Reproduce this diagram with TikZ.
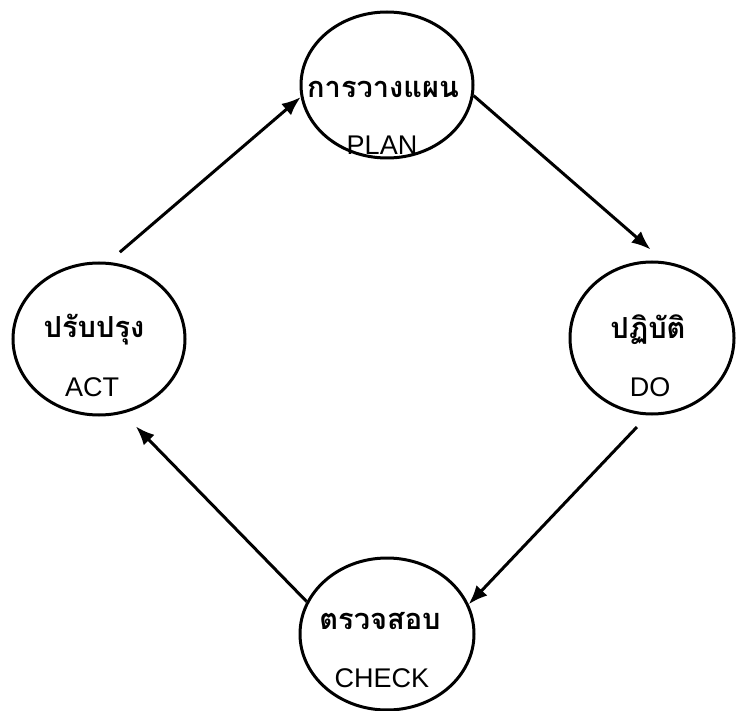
\documentclass[tikz,border=0pt]{standalone}
\usepackage{fontspec}
\setmainfont{Liberation Sans}
\newfontfamily\thaifont[Script=Thai]{Loma}
\usetikzlibrary{arrows.meta,shapes.geometric}
\begin{document}
\begin{tikzpicture}[x=1pt,y=-1pt,
  stage/.style={draw=black,line width=3pt,ellipse,inner sep=0pt},
  thai/.style={font=\thaifont\bfseries\fontsize{29}{32}\selectfont,inner sep=0pt},
  eng/.style={font=\fontsize{27}{30}\selectfont,inner sep=0pt},
  arr/.style={line width=3pt,-{Latex[length=19pt,width=15pt]}}]
\useasboundingbox (0,0) rectangle (736,711);
\node[stage,minimum width=172pt,minimum height=146pt] (plan) at (387,85) {};
\node[stage,minimum width=172pt,minimum height=152pt] (act) at (99,339) {};
\node[stage,minimum width=164pt,minimum height=152pt] (do) at (652,338) {};
\node[stage,minimum width=174pt,minimum height=152pt] (check) at (387,634) {};
\node[thai] (planth) at (383,89) {การวางแผน};
\node[eng] (planen) at (382,145) {PLAN};
\node[thai] (actth) at (94,330) {ปรับปรุง};
\node[eng] (acten) at (92,387) {ACT};
\node[thai] (doth) at (648,330) {ปฏิบัติ};
\node[eng] (doen) at (650,387) {DO};
\node[thai] (checkth) at (380,621) {ตรวจสอบ};
\node[eng] (checken) at (382,678) {CHECK};
\draw[arr,shorten <=15pt] (act.83) -- (plan.188);
\draw[arr,shorten >=18pt] (plan.353) -- (do.81);
\draw[arr,shorten <=16pt] (do.267) -- (check.20);
\draw[arr,shorten >=18pt] (check.158) -- (act.288);
\end{tikzpicture}
\end{document}
